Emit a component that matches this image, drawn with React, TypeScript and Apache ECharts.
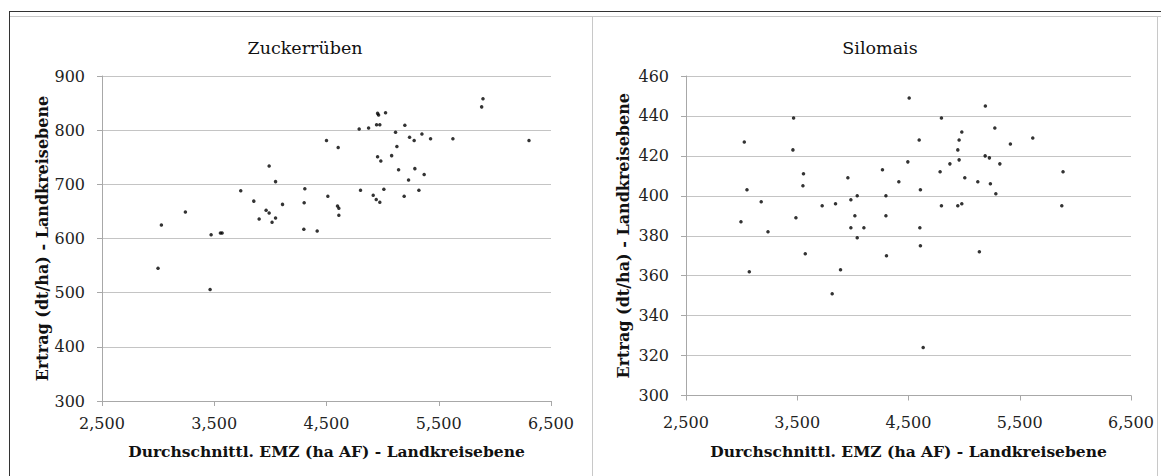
import React, { useEffect, useRef } from "react";
import * as echarts from "echarts";

const xTicks = [2500, 3500, 4500, 5500, 6500];

const emzZucker = [
  3029, 3243, 3472, 3555, 3570, 3736, 3852, 3900, 3962, 3989, 3989, 4015, 4046, 4046, 4108,
  4298, 4301, 4307, 4417, 4500, 4512, 4604, 4598, 4610, 4610, 4791, 4803, 4875, 4916, 4943,
  4955, 4964, 4946, 4975, 4955, 4975, 4984, 5011, 5026, 5080, 5115, 5127, 5142, 5192, 5198,
  5231, 5240, 5281, 5287, 5323, 5350, 5370, 5427, 5626, 5882, 5894, 6304, 2999, 3463,
];
const ertragZucker = [
  625, 649, 607, 610, 610, 688, 669, 636, 652, 647, 734, 630, 638, 705, 663,
  617, 666, 692, 614, 781, 678, 768, 660, 656, 643, 802, 689, 804, 680, 672,
  831, 828, 810, 810, 751, 667, 743, 691, 832, 753, 796, 770, 727, 678, 809,
  708, 787, 781, 729, 689, 793, 718, 784, 784, 843, 858, 781, 545, 506,
];

const emzSilomais = [
  3024, 2994, 3048, 3176, 3237, 3467, 3461, 3488, 3556, 3551, 3572, 3724, 3844, 3955, 3982,
  4018, 3982, 4039, 4039, 4099, 4266, 4297, 4297, 4302, 4413, 4506, 4494, 3069, 3889, 3814,
  4607, 4632, 5137, 4796, 4596, 4602, 4607, 4784, 4796, 4872, 4943, 4955, 4979, 4955, 5006,
  4943, 4979, 5123, 5191, 5189, 5227, 5236, 5276, 5285, 5321, 5416, 5617, 5889, 5878,
];
const ertragSilomais = [
  427, 387, 403, 397, 382, 439, 423, 389, 411, 405, 371, 395, 396, 409, 398,
  390, 384, 400, 379, 384, 413, 400, 390, 370, 407, 449, 417, 362, 363, 351,
  375, 324, 372, 439, 428, 384, 403, 412, 395, 416, 423, 428, 432, 418, 409,
  395, 396, 407, 445, 420, 419, 406, 434, 401, 416, 426, 429, 412, 395,
];

const titles = ["Zuckerrüben", "Silomais"];
const xName = "Durchschnittl. EMZ (ha AF) - Landkreisebene";
const yName = "Ertrag (dt/ha) - Landkreisebene";

const FONT = "DejaVu Serif";
const GRID_COLOR = "#c4c4c4";
const AXIS_COLOR = "#a8a8a8";
const LABEL_COLOR = "#222";

function fmt(v: number) {
  return v.toLocaleString("en-US");
}

export default function App() {
  const ref = useRef<HTMLDivElement>(null);
  useEffect(() => {
    if (!ref.current) return;
    const chart = echarts.init(ref.current, null, { renderer: "svg" });

    const xAxisBase = (gridIndex: number, margin: number, nameGap: number) => ({
      type: "value",
      gridIndex,
      min: 2500,
      max: 6500,
      name: xName,
      nameLocation: "middle",
      nameGap,
      nameTextStyle: { fontFamily: FONT, fontSize: 15.5, fontWeight: "bold", color: "#111" },
      axisLine: { show: true, lineStyle: { color: AXIS_COLOR, width: 1 } },
      axisTick: { show: true, length: 5, customValues: xTicks, lineStyle: { color: AXIS_COLOR } },
      axisLabel: {
        customValues: xTicks,
        margin,
        fontFamily: FONT,
        fontSize: 16,
        color: LABEL_COLOR,
        formatter: (v: number) => fmt(v),
      },
      splitLine: { show: false },
    });

    const yAxisBase = (gridIndex: number, min: number, max: number, interval: number, nameGap: number) => ({
      type: "value",
      gridIndex,
      min,
      max,
      interval,
      name: yName,
      nameLocation: "middle",
      nameGap,
      nameTextStyle: { fontFamily: FONT, fontSize: 16, fontWeight: "bold", color: "#111" },
      axisLine: { show: true, lineStyle: { color: AXIS_COLOR, width: 1 } },
      axisTick: { show: true, length: 5, lineStyle: { color: AXIS_COLOR } },
      axisLabel: { margin: 17, fontFamily: FONT, fontSize: 16, color: LABEL_COLOR },
      splitLine: { show: true, lineStyle: { color: GRID_COLOR, width: 1 } },
    });

    chart.setOption({
      animation: false,
      backgroundColor: "#ffffff",
      textStyle: { fontFamily: FONT },
      title: [
        {
          text: titles[0],
          left: 300,
          top: 34,
          textAlign: "center",
          textStyle: { fontFamily: FONT, fontSize: 17.5, fontWeight: "normal", color: "#111" },
        },
        {
          text: titles[1],
          left: 875,
          top: 34,
          textAlign: "center",
          textStyle: { fontFamily: FONT, fontSize: 17.5, fontWeight: "normal", color: "#111" },
        },
      ],
      grid: [
        { left: 102, top: 76, width: 449, height: 325 },
        { left: 686, top: 76, width: 445, height: 319.5 },
      ],
      xAxis: [xAxisBase(0, 14, 42), xAxisBase(1, 19, 48)],
      yAxis: [yAxisBase(0, 300, 900, 100, 50), yAxisBase(1, 300, 460, 20, 55)],
      series: [
        {
          type: "scatter",
          xAxisIndex: 0,
          yAxisIndex: 0,
          symbol: "circle",
          symbolSize: 3.5,
          itemStyle: { color: "#000" },
          data: emzZucker.map((x, i) => [x, ertragZucker[i]]),
        },
        {
          type: "scatter",
          xAxisIndex: 1,
          yAxisIndex: 1,
          symbol: "circle",
          symbolSize: 3.5,
          itemStyle: { color: "#000" },
          data: emzSilomais.map((x, i) => [x, ertragSilomais[i]]),
        },
      ],
      graphic: [
        { type: "line", shape: { x1: 9, y1: 16.5, x2: 1161, y2: 16.5 }, style: { stroke: "#c8c8c8", lineWidth: 1 } },
        { type: "line", shape: { x1: 592.5, y1: 16, x2: 592.5, y2: 476 }, style: { stroke: "#c8c8c8", lineWidth: 1 } },
        { type: "line", shape: { x1: 1157.5, y1: 16, x2: 1157.5, y2: 476 }, style: { stroke: "#c8c8c8", lineWidth: 1 } },
        { type: "line", shape: { x1: 9, y1: 11.5, x2: 1161, y2: 11.5 }, style: { stroke: "#333", lineWidth: 1 } },
        { type: "line", shape: { x1: 9.5, y1: 11, x2: 9.5, y2: 476 }, style: { stroke: "#333", lineWidth: 1 } },
      ],
    });
    return () => chart.dispose();
  }, []);

  return (
    <div
      ref={ref}
      style={{ position: "fixed", left: 0, top: 0, width: 1161, height: 476, background: "#fff" }}
    />
  );
}
